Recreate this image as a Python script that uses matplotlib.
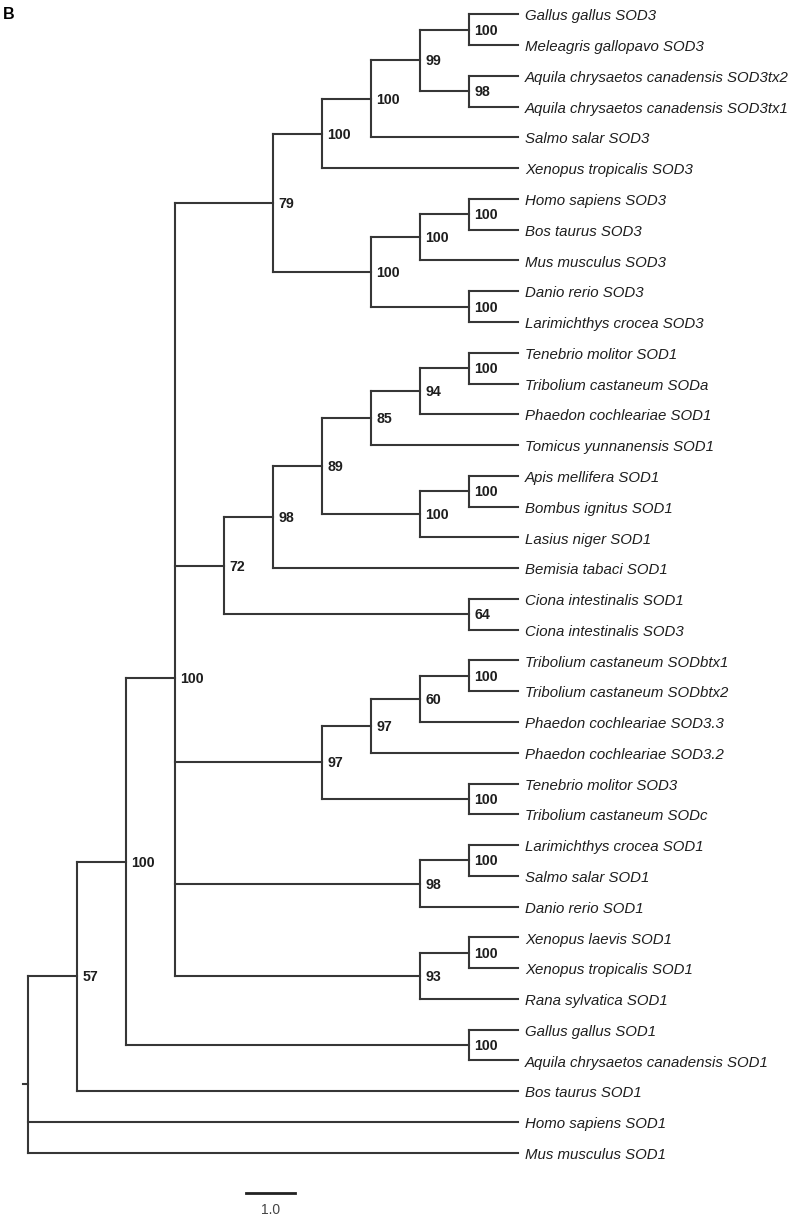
import matplotlib.pyplot as plt

# Newick pieces of the SOD tree, bootstrap support after each closing bracket
sod3_birds_fish = ("((((Gallus gallus SOD3,Meleagris gallopavo SOD3)100,"
                   "(Aquila chrysaetos canadensis SOD3tx2,Aquila chrysaetos canadensis SOD3tx1)98)99,"
                   "Salmo salar SOD3)100,Xenopus tropicalis SOD3)100")
sod3_mammal_fish = ("(((Homo sapiens SOD3,Bos taurus SOD3)100,Mus musculus SOD3)100,"
                    "(Danio rerio SOD3,Larimichthys crocea SOD3)100)100")
insect_sod1 = ("(((((Tenebrio molitor SOD1,Tribolium castaneum SODa)100,Phaedon cochleariae SOD1)94,"
               "Tomicus yunnanensis SOD1)85,((Apis mellifera SOD1,Bombus ignitus SOD1)100,"
               "Lasius niger SOD1)100)89,Bemisia tabaci SOD1)98")
ciona = "(Ciona intestinalis SOD1,Ciona intestinalis SOD3)64"
insect_sod3 = ("((((Tribolium castaneum SODbtx1,Tribolium castaneum SODbtx2)100,"
               "Phaedon cochleariae SOD3.3)60,Phaedon cochleariae SOD3.2)97,"
               "(Tenebrio molitor SOD3,Tribolium castaneum SODc)100)97")
fish_sod1 = "((Larimichthys crocea SOD1,Salmo salar SOD1)100,Danio rerio SOD1)98"
frog_sod1 = "((Xenopus laevis SOD1,Xenopus tropicalis SOD1)100,Rana sylvatica SOD1)93"
bird_sod1 = "(Gallus gallus SOD1,Aquila chrysaetos canadensis SOD1)100"
outgroup = ["Bos taurus SOD1", "Homo sapiens SOD1", "Mus musculus SOD1"]

newick = (f"((((({sod3_birds_fish},{sod3_mammal_fish})79,({insect_sod1},{ciona})72,"
          f"{insect_sod3},{fish_sod1},{frog_sod1})100,{bird_sod1})100,{outgroup[0]})57,"
          f"{outgroup[1]},{outgroup[2]});")

scale_len = 1.0
line_col = '#363636'
text_col = '#1e1e1e'


def parse(s):
    pos = 0

    def node():
        nonlocal pos
        if s[pos] == '(':
            pos += 1
            kids = [node()]
            while s[pos] == ',':
                pos += 1
                kids.append(node())
            pos += 1
            start = pos
            while s[pos].isdigit():
                pos += 1
            return {'kids': kids, 'boot': s[start:pos]}
        start = pos
        while s[pos] not in ',)':
            pos += 1
        return {'name': s[start:pos]}

    return node()


leaves = []


def layout(n):
    if 'name' in n:
        n['y'] = len(leaves)
        n['h'] = 0
        leaves.append(n)
        return
    for k in n['kids']:
        layout(k)
    n['h'] = max(k['h'] for k in n['kids']) + 1
    n['y'] = sum(k['y'] for k in n['kids']) / len(n['kids'])


root = parse(newick)
layout(root)
depth = root['h']

fig = plt.figure(figsize=(7.97, 12.24), dpi=100)
ax = fig.add_axes([0, 0, 1, 1])
ax.axis('off')

# pixel geometry: 49 px per branch unit, 30.77 px per leaf row
ax.set_xlim(-28 / 49, (797 - 28) / 49)
ax.set_ylim((1224 - 14.3) / 30.77, -14.3 / 30.77)

lw = 1.5


def draw(n):
    x = depth - n['h']
    if 'name' in n:
        ax.annotate(n['name'], (x, n['y']), xytext=(5, -4.4), textcoords='offset points',
                    ha='left', va='baseline', fontsize=10.8, style='italic',
                    family='Liberation Sans', color=text_col)
        return
    ys = [k['y'] for k in n['kids']]
    ax.plot([x, x], [min(ys), max(ys)], color=line_col, lw=lw, solid_capstyle='projecting')
    for k in n['kids']:
        ax.plot([x, depth - k['h']], [k['y'], k['y']], color=line_col, lw=lw,
                solid_capstyle='projecting')
        draw(k)
    if n['boot']:
        ax.annotate(n['boot'], (x, n['y']), xytext=(4, -3.6), textcoords='offset points',
                    ha='left', va='baseline', fontsize=10.2, fontweight='bold',
                    family='Liberation Sans', color=text_col)


draw(root)
# root stub
ax.plot([-0.1, 0], [root['y'], root['y']], color=line_col, lw=lw)

# scale bar
sx, sy = 4.45, 38.31
ax.plot([sx, sx + scale_len], [sy, sy], color='#222222', lw=2)
ax.text(sx + scale_len / 2, sy + 0.55, f'{scale_len:.1f}', ha='center', va='center',
        fontsize=10, family='Liberation Sans', color='#444444')

fig.text(0.003, 0.994, 'B', ha='left', va='top', fontsize=11.5, fontweight='bold',
         family='Liberation Sans', color='black')

fig.savefig('out.png', dpi=100)
